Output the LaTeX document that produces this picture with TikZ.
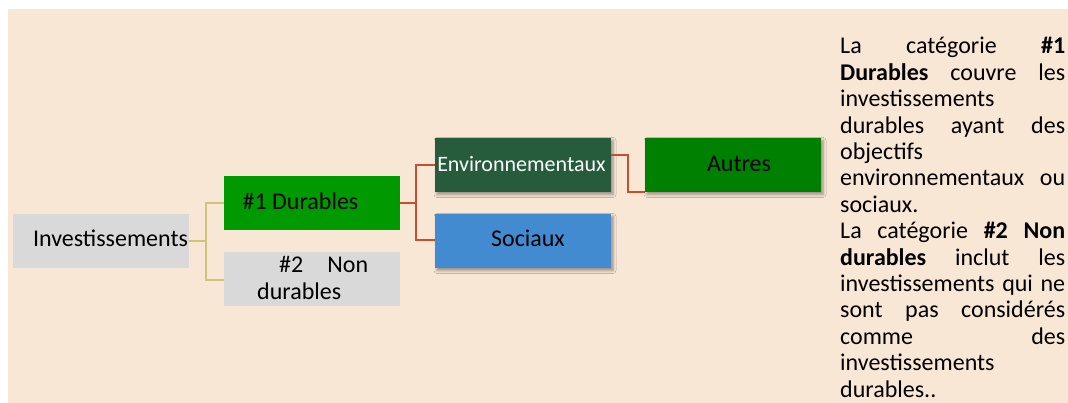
\documentclass[tikz,border=0pt]{standalone}
\usepackage{fontspec}
\setmainfont{Carlito}
\usetikzlibrary{shadows.blur}
\definecolor{peach}{RGB}{249,231,214}
\definecolor{boxgray}{RGB}{217,217,217}
\definecolor{durgreen}{RGB}{0,154,0}
\definecolor{envgreen}{RGB}{38,91,60}
\definecolor{socblue}{RGB}{66,139,208}
\definecolor{autgreen}{RGB}{0,128,0}
\definecolor{olivelink}{RGB}{208,196,124}
\definecolor{redlink}{RGB}{196,80,47}
\tikzset{
  box/.style={draw=none, minimum width=176pt, minimum height=54pt, inner sep=0pt},
  shadowed/.style={blur shadow={shadow xshift=2pt, shadow yshift=-2.5pt, shadow blur radius=3pt, shadow opacity=40}},
  txt/.style={inner sep=0pt, anchor=base, font=\fontsize{24}{26}\selectfont},
  olivewire/.style={draw=olivelink, line width=1.6pt},
  redwire/.style={draw=redlink, line width=1.8pt},
}
\begin{document}
\begin{tikzpicture}[x=1pt, y=1pt]
  \useasboundingbox (0,0) rectangle (1068,-403);
  \fill[peach] (8,-9) rectangle (1068,-403);

  % boxes of the tree
  \node[box, fill=boxgray] (inv) at (101,-241) {};
  \node[box, fill=durgreen] (d1) at (312,-203) {};
  \node[box, fill=boxgray] (d2) at (312,-279) {};
  \node[box, fill=envgreen, shadowed] (env) at (523,-165) {};
  \node[box, fill=socblue, shadowed] (soc) at (523,-241) {};
  \node[box, fill=autgreen, shadowed] (aut) at (733,-165) {};

  % labels of the boxes
  \node[txt] (inv-t) at (110.5,-247) {Investissements};
  \node[txt] (d1-t) at (300.5,-210) {\#1 Durables};
  \node[txt, anchor=base west] (d2-t) at (257,-273)
    {\parbox[t]{111pt}{\fontsize{24}{26}\selectfont\lineskiplimit=-100pt
      \hbox to 111pt{\hspace{22pt}\#2\hfill Non}
      \hbox{durables}}};
  \node[txt, text=white, font=\fontsize{22}{26}\selectfont] (env-t) at (521.5,-172) {Environnementaux};
  \node[txt] (soc-t) at (528,-247) {Sociaux};
  \node[txt] (aut-t) at (739,-172) {Autres};

  % connectors
  \draw[olivewire] (inv.east) -- ++(17,0) coordinate (j1) |- (d1.west);
  \draw[olivewire] (j1) |- ([yshift=-1pt]d2.west);
  \draw[redwire] (d1.east) -- ++(16,0) coordinate (j2) |- (env.west);
  \draw[redwire] (j2) |- ([yshift=1pt]soc.west);
  \draw[redwire] ([yshift=10pt]env.east) -- ++(17,0) |- (aut.south west);

  % explanatory paragraph
  \node[inner sep=0pt, anchor=base west] (note) at (840,-54)
    {\parbox[t]{225pt}{\fontsize{24}{26.4}\selectfont\lineskiplimit=-100pt
      \hbox to 225pt{La\hfill catégorie\hfill \textbf{\#1}}
      \hbox to 225pt{\textbf{Durables}\hfill couvre\hfill les}
      \hbox{investissements}
      \hbox to 225pt{durables\hfill ayant\hfill des}
      \hbox{objectifs}
      \hbox to 225pt{environnementaux\hfill ou}
      \hbox{sociaux.}
      \hbox to 225pt{La\hfill catégorie\hfill \textbf{\#2}\hfill \textbf{Non}}
      \hbox to 225pt{\textbf{durables}\hfill inclut\hfill les}
      \hbox to 225pt{investissements\hfill qui\hfill ne}
      \hbox to 225pt{sont\hfill pas\hfill considérés}
      \hbox to 225pt{comme\hfill des}
      \hbox{investissements}
      \hbox{durables..}}};
\end{tikzpicture}
\end{document}
